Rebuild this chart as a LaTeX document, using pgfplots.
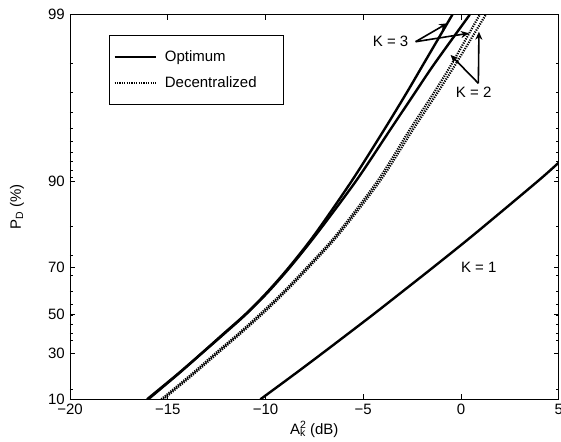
\documentclass[border=0pt]{standalone}
\usepackage{pgfplots}
\pgfplotsset{compat=1.18}
\usepackage{fontspec}
\setmainfont{Liberation Sans}
\usetikzlibrary{arrows.meta}
% y values are -ln(P_D), drawn on a reversed log axis (ticks labelled in % of P_D)
\begin{document}
\fontsize{15}{18}\selectfont
\begin{tikzpicture}
\begin{axis}[
  scale only axis, width=488.7pt, height=384.6pt,
  xmin=-20, xmax=5,
  ymode=log, y dir=reverse,
  ymin=0.010050, ymax=2.302585,
  xtick={-20,-15,-10,-5,0,5},
  xticklabels={−20,−15,−10,−5,0,5},
  ytick={2.302585,1.203973,0.693147,0.356675,0.105361,0.010050},
  yticklabels={10,30,50,70,90,99},
  minor ytick={0.02,0.03,0.04,0.05,0.06,0.07,0.08,0.09,0.1,0.2,0.3,0.4,0.5,0.6,0.7,0.8,0.9,1,2},
  tick align=inside, major tick length=5pt, minor tick length=3pt,
  tick style={black, line width=0.6pt},
  axis line style={line width=0.8pt},
  xlabel={A\rlap{\textsuperscript{2}}\textsubscript{k} (dB)},
  ylabel={P\textsubscript{D} (\%)},
  x label style={at={(axis description cs:0.5,0)}, anchor=center, yshift=-30pt},
  y label style={at={(axis description cs:0,0.5)}, anchor=center, yshift=53pt},
  legend style={at={(axis description cs:0.08,0.947)}, anchor=north west,
    draw=black, line width=0.8pt, inner xsep=4pt, inner ysep=13pt, row sep=9pt,
    font=\fontsize{15}{18}\selectfont},
  legend cell align=left,
  legend image code/.code={\draw[#1] (0pt,0pt) -- (41pt,0pt);},
]
% Optimum K=3
\addplot[black, line width=2.4pt, smooth, tension=0.5] coordinates {
(-16.06,2.302585) (-14.49,1.609438) (-13.28,1.203973) (-12.17,0.916291)
(-11.03,0.693147) (-9.94,0.510826) (-8.80,0.356675) (-7.47,0.223144)
(-5.59,0.105361) (-3.94,0.051293) (-2.79,0.030459) (-1.92,0.020203) (-0.44,0.010050)};
\addlegendentry{\makebox[119pt][l]{\hspace{6pt}Optimum}}
% Decentralized K=3
\addplot[black, line width=2.2pt, dash pattern=on 1.2pt off 1.2pt, smooth, tension=0.5] coordinates {
(-15.33,2.302585) (-13.77,1.609438) (-12.57,1.203973) (-11.41,0.916291)
(-10.29,0.693147) (-9.13,0.510826) (-7.88,0.356675) (-6.34,0.223144)
(-4.27,0.105361) (-2.63,0.051293) (-1.40,0.030459) (-0.48,0.020203) (0.96,0.010050)};
\addlegendentry{\makebox[119pt][l]{\hspace{6pt}Decentralized}}
% Optimum K=2
\addplot[black, line width=2.4pt, smooth, tension=0.5, forget plot] coordinates {
(-16.00,2.302585) (-14.46,1.609438) (-13.26,1.203973) (-12.13,0.916291)
(-11.00,0.693147) (-9.90,0.510826) (-8.75,0.356675) (-7.39,0.223144)
(-5.37,0.105361) (-3.63,0.051293) (-2.37,0.030459) (-1.37,0.020203) (0.45,0.010050)};
% Decentralized K=2
\addplot[black, line width=2.2pt, dash pattern=on 1.2pt off 1.2pt, smooth, tension=0.5, forget plot] coordinates {
(-15.23,2.302585) (-13.67,1.609438) (-12.46,1.203973) (-11.31,0.916291)
(-10.18,0.693147) (-9.03,0.510826) (-7.78,0.356675) (-6.24,0.223144)
(-4.14,0.105361) (-2.47,0.051293) (-1.22,0.030459) (-0.27,0.020203) (1.27,0.010050)};
% K=1 (optimum = decentralized)
\addplot[black, line width=2.4pt, smooth, tension=0.5, forget plot] coordinates {
(-10.26,2.302585) (-8.50,1.609438) (-7.10,1.203973) (-5.80,0.916291)
(-4.48,0.693147) (-3.07,0.510826) (-1.42,0.356675) (0.69,0.223144)
(3.94,0.105361) (5.00,0.08122)};
% annotations
\node at (axis cs:-3.60,0.01472) {K = 3};
\node at (axis cs:0.65,0.02995) {K = 2};
\node at (axis cs:0.91,0.356675) {K = 1};
\draw[-{Stealth[length=8pt,width=7pt]}, line width=1.6pt] (axis cs:-2.32,0.01472) -- (axis cs:-0.70,0.01135);
\draw[-{Stealth[length=8pt,width=7pt]}, line width=1.6pt] (axis cs:-2.32,0.01472) -- (axis cs:0.41,0.01306);
\draw[-{Stealth[length=8pt,width=7pt]}, line width=1.6pt] (axis cs:0.89,0.02649) -- (axis cs:-0.53,0.01775);
\draw[-{Stealth[length=8pt,width=7pt]}, line width=1.6pt] (axis cs:0.89,0.02649) -- (axis cs:0.92,0.01278);
\end{axis}
\pgfresetboundingbox
\path ([xshift=-70pt,yshift=-41.7pt]current axis.south west) rectangle ([xshift=2.3pt,yshift=14.7pt]current axis.north east);
\end{tikzpicture}
\end{document}
